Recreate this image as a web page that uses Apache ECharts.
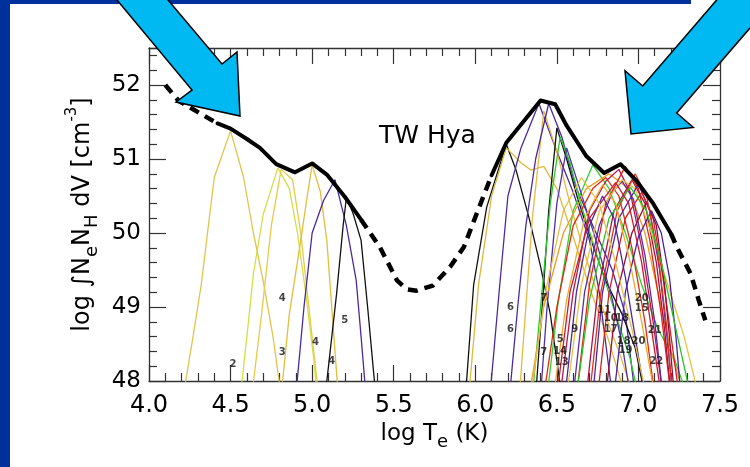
<!DOCTYPE html>
<html>
<head>
<meta charset="utf-8">
<script src="https://cdn.jsdelivr.net/npm/echarts@6.0.0/dist/echarts.min.js"></script>
<style>
  html, body { margin: 0; padding: 0; background: #fff; }
  #main { width: 750px; height: 467px; }
</style>
</head>
<body>
<div id="main"></div>
<script>
// axis ticks
var xTicks = [4.0, 4.5, 5.0, 5.5, 6.0, 6.5, 7.0, 7.5];
var yTicks = [48, 49, 50, 51, 52];

// emission measure distribution (log T, log EM), split where the curve is dashed
var demDash1  = [[4.10, 52.0], [4.18, 51.79], [4.31, 51.62], [4.42, 51.48]];
var demSolid1 = [[4.42, 51.48], [4.50, 51.41], [4.60, 51.27], [4.68, 51.15], [4.78, 50.93],
                 [4.895, 50.82], [5.0, 50.94], [5.09, 50.79], [5.20, 50.49], [5.30, 50.18]];
var demDash2  = [[5.30, 50.18], [5.415, 49.81], [5.52, 49.36], [5.58, 49.24], [5.64, 49.22],
                 [5.74, 49.29], [5.845, 49.54], [5.93, 49.81], [6.01, 50.27], [6.10, 50.78]];
var demSolid2 = [[6.10, 50.78], [6.19, 51.22], [6.40, 51.79], [6.49, 51.74], [6.56, 51.45],
                 [6.68, 51.04], [6.79, 50.81], [6.89, 50.93], [6.99, 50.70], [7.09, 50.40], [7.20, 49.99]];
var demDash3  = [[7.20, 49.99], [7.235, 49.81], [7.32, 49.45], [7.37, 49.09], [7.41, 48.82]];

// contribution curves of individual lines (log T, log EM)
var ionCurves = [
  [[4.21,47.8],[4.27,48.6],[4.32,49.3],[4.40,50.75],[4.50,51.38],[4.58,50.75],[4.64,50.0],[4.70,49.35],[4.76,48.6],[4.81,47.8]],
  [[4.56,47.8],[4.60,48.6],[4.64,49.45],[4.70,50.25],[4.79,50.88],[4.86,50.6],[4.91,50.0],[4.96,49.2],[5.01,48.3],[5.03,47.8]],
  [[4.63,47.8],[4.69,48.9],[4.75,50.1],[4.81,50.86],[4.88,50.72],[4.93,50.0],[4.98,49.0],[5.04,47.8]],
  [[4.81,47.8],[4.86,48.9],[4.93,49.9],[4.97,50.5],[5.00,50.92],[5.05,50.56],[5.09,49.9],[5.12,49.0],[5.16,47.8]],
  [[4.90,47.8],[4.95,49.0],[5.00,50.0],[5.07,50.44],[5.14,50.72],[5.21,50.1],[5.27,49.36],[5.30,48.6],[5.33,47.8]],
  [[5.08,47.8],[5.15,49.18],[5.19,50.1],[5.21,50.48],[5.25,50.27],[5.30,49.9],[5.34,49.0],[5.39,47.8]],
  [[5.94,47.8],[5.99,49.3],[6.07,50.35],[6.19,51.2],[6.25,50.85],[6.33,50.2],[6.40,49.55],[6.46,48.9],[6.53,47.8]],
  [[5.96,47.8],[6.02,49.3],[6.10,50.5],[6.19,51.15],[6.28,50.95],[6.34,50.85],[6.42,50.9],[6.50,50.6],[6.60,49.95],[6.71,49.2],[6.81,48.6],[6.92,47.8]],
  [[6.09,47.8],[6.15,49.3],[6.20,50.5],[6.28,51.15],[6.39,51.75],[6.50,51.1],[6.60,50.55],[6.70,49.9],[6.76,49.2],[6.80,48.5],[6.84,47.8]],
  [[6.27,47.8],[6.31,49.0],[6.35,50.2],[6.42,51.65],[6.50,51.1],[6.58,50.4],[6.66,49.8],[6.76,49.1],[6.88,48.4],[6.97,47.8]],
  [[6.21,47.8],[6.26,49.0],[6.31,50.1],[6.37,51.0],[6.45,51.75],[6.53,51.3],[6.62,50.6],[6.72,50.1],[6.84,49.5],[6.92,48.9],[6.98,47.8]],
  [[6.37,47.8],[6.41,49.0],[6.45,50.3],[6.50,51.42],[6.56,51.0],[6.63,50.45],[6.71,49.9],[6.80,49.35],[6.90,48.9],[6.98,48.45],[7.04,47.8]],
  [[6.35,47.8],[6.40,49.0],[6.46,50.4],[6.52,51.3],[6.58,50.95],[6.66,50.3],[6.76,49.6],[6.86,48.9],[6.95,48.3],[7.00,47.8]],
  [[6.44,47.8],[6.51,49.1],[6.60,50.3],[6.72,50.92],[6.82,50.6],[6.92,50.0],[7.02,49.3],[7.12,48.7],[7.22,48.3],[7.30,47.8]],
  [[6.40,47.8],[6.44,49.0],[6.50,50.4],[6.56,51.15],[6.64,50.6],[6.74,49.9],[6.84,49.1],[6.90,48.5],[6.95,47.8]],
  [[6.33,47.8],[6.42,49.0],[6.54,50.0],[6.68,50.6],[6.82,50.8],[6.94,50.6],[7.04,50.0],[7.12,49.2],[7.20,48.4],[7.28,47.8]],
  [[6.42,47.8],[6.50,49.0],[6.60,50.1],[6.72,50.6],[6.80,50.75],[6.88,50.5],[6.96,49.8],[7.04,48.8],[7.10,47.8]],
  [[6.52,47.8],[6.60,49.2],[6.70,50.3],[6.80,50.7],[6.88,50.86],[6.95,50.55],[7.02,49.8],[7.09,48.8],[7.15,47.8]],
  [[6.60,47.8],[6.67,49.2],[6.76,50.1],[6.84,50.55],[6.90,50.7],[6.97,50.45],[7.04,49.7],[7.10,48.8],[7.15,47.8]],
  [[6.62,47.8],[6.70,49.3],[6.80,50.4],[6.92,50.9],[7.00,50.6],[7.07,49.9],[7.14,48.9],[7.20,47.8]],
  [[6.68,47.8],[6.75,49.2],[6.85,50.3],[6.96,50.72],[7.04,50.4],[7.11,49.6],[7.16,48.7],[7.20,47.8]],
  [[6.56,47.8],[6.65,49.3],[6.76,50.3],[6.90,50.72],[6.98,50.6],[7.08,50.0],[7.18,49.3],[7.28,48.6],[7.37,47.8]],
  [[6.72,47.8],[6.78,49.2],[6.88,50.2],[7.00,50.66],[7.07,50.3],[7.13,49.5],[7.17,48.7],[7.21,47.8]],
  [[6.75,47.8],[6.82,49.2],[6.92,50.2],[7.02,50.55],[7.09,50.2],[7.15,49.4],[7.20,48.6],[7.25,47.8]],
  [[6.80,47.8],[6.87,49.2],[6.96,50.0],[7.05,50.42],[7.11,50.1],[7.16,49.3],[7.19,48.6],[7.22,47.8]],
  [[6.85,47.8],[6.92,49.2],[7.00,49.95],[7.08,50.3],[7.14,50.0],[7.19,49.4],[7.23,48.6],[7.26,47.8]],
  [[6.70,47.8],[6.77,49.2],[6.87,50.3],[6.98,50.8],[7.05,50.5],[7.12,49.7],[7.17,48.8],[7.21,47.8]],
  [[6.62,47.8],[6.70,49.1],[6.82,50.2],[6.95,50.62],[7.05,50.3],[7.14,49.6],[7.22,48.8],[7.32,47.8]],
  [[6.48,47.8],[6.56,49.1],[6.67,50.2],[6.78,50.65],[6.86,50.4],[6.94,49.7],[7.02,48.8],[7.10,47.8]],
  [[6.55,47.8],[6.62,49.2],[6.70,50.1],[6.78,50.5],[6.85,50.2],[6.92,49.4],[6.98,48.6],[7.04,47.8]],
  [[6.50,47.8],[6.58,49.2],[6.70,50.2],[6.86,50.68],[6.94,50.4],[7.02,49.6],[7.08,48.7],[7.14,47.8]],
  [[6.34,47.8],[6.43,49.2],[6.54,50.3],[6.65,50.75],[6.76,50.4],[6.86,49.6],[6.96,48.7],[7.05,47.8]]
];

// line identification numbers written in the plot
var lineLabels = [
  [4.515, 48.23, '2'], [4.816, 48.38, '3'], [4.816, 49.12, '4'], [5.02, 48.52, '4'],
  [5.12, 48.27, '4'], [5.20, 48.82, '5'],
  [6.215, 49.0, '6'], [6.215, 48.70, '6'], [6.42, 49.11, '7'], [6.42, 48.39, '7'],
  [6.52, 48.56, '5'], [6.52, 48.40, '14'], [6.53, 48.25, '13'], [6.61, 48.70, '9'],
  [6.79, 48.95, '11'], [6.83, 48.85, '10'], [6.90, 48.85, '18'], [6.83, 48.70, '17'],
  [7.02, 49.11, '20'], [7.02, 48.98, '15'], [7.10, 48.68, '21'],
  [6.91, 48.54, '18'], [7.00, 48.54, '20'], [6.92, 48.41, '19'], [7.11, 48.27, '22']
];

// colours of the contribution curves, in the order of ionCurves
var ionColors = [
  '#e2c44c', '#cfe046', '#e9c84a', '#e3bd3c', '#4b2aa0', '#111111',
  '#111111', '#e0b83a', '#4b2aa0', '#e8b840', '#4b2aa0', '#111111',
  '#28cc28', '#30d030', '#5030a8', '#f09a20', '#e02a14', '#b4184a',
  '#5a2aa8', '#e02414', '#a8103e', '#e8c23c', '#5224a4', '#d8201a',
  '#940c3a', '#4a1ea0', '#e0301c', '#26c426', '#f0a828', '#4a26a0',
  '#c81c30', '#e6be44'
];

var FONT = 'DejaVu Sans';
var chart = echarts.init(document.getElementById('main'), null, { renderer: 'canvas' });

var series = [];
ionCurves.forEach(function (pts, i) {
  series.push({
    type: 'line', data: pts, showSymbol: false, silent: true, z: 2,
    lineStyle: { color: ionColors[i % ionColors.length], width: 1.3 }
  });
});
[demDash1, demDash2, demDash3].forEach(function (pts) {
  series.push({
    type: 'line', data: pts, showSymbol: false, silent: true, z: 4,
    lineStyle: { color: '#000', width: 4.5, type: [10, 7], cap: 'butt' }
  });
});
[demSolid1, demSolid2].forEach(function (pts) {
  series.push({
    type: 'line', data: pts, showSymbol: false, silent: true, z: 4,
    lineStyle: { color: '#000', width: 4, join: 'round', cap: 'round' }
  });
});
series.push({
  type: 'scatter', symbolSize: 0, z: 5, silent: true,
  data: lineLabels.map(function (d) { return { value: [d[0], d[1]], name: d[2] }; }),
  label: {
    show: true, position: 'inside', formatter: '{b}',
    fontFamily: FONT, fontWeight: 'bold', fontSize: 10, color: '#111'
  }
});

var axisLine = { show: true, lineStyle: { color: '#333', width: 1.3 } };
var xCommon = {
  type: 'value', min: xTicks[0], max: xTicks[xTicks.length - 1], interval: 0.5,
  axisLine: axisLine, splitLine: { show: false },
  axisTick: { show: true, inside: true, length: 16, lineStyle: { color: '#333', width: 1.2 } },
  minorTick: { show: true, splitNumber: 5, length: 8, lineStyle: { color: '#333', width: 1.2 } }
};
var yCommon = {
  type: 'value', min: yTicks[0], max: 52.5, interval: 1,
  axisLine: axisLine, splitLine: { show: false },
  axisTick: { show: true, inside: true, length: 17, lineStyle: { color: '#333', width: 1.2 } },
  minorTick: { show: true, splitNumber: 5, length: 8, lineStyle: { color: '#333', width: 1.2 } }
};

chart.setOption({
  animation: false,
  backgroundColor: '#fff',
  title: {
    text: 'TW Hya', left: 374, top: 119,
    textStyle: { fontFamily: FONT, fontSize: 25, fontWeight: 'normal', color: '#000' }
  },
  grid: { left: 149, right: 30, top: 48, bottom: 86 },
  xAxis: [
    Object.assign({}, xCommon, {
      position: 'bottom',
      axisLabel: {
        fontFamily: FONT, fontSize: 24, color: '#000', margin: 13,
        formatter: function (v) { return v.toFixed(1); }
      },
      name: '{n|log T}{s|e}{n| (K)}', nameLocation: 'middle', nameGap: 36,
      nameTextStyle: {
        fontFamily: FONT, fontSize: 23, color: '#000',
        rich: {
          n: { fontFamily: FONT, fontSize: 23, color: '#000', lineHeight: 34, verticalAlign: 'middle' },
          s: { fontFamily: FONT, fontSize: 18, color: '#000', lineHeight: 18, verticalAlign: 'bottom' }
        }
      }
    }),
    Object.assign({}, xCommon, { position: 'top', axisLabel: { show: false } })
  ],
  yAxis: [
    Object.assign({}, yCommon, {
      position: 'left',
      axisLabel: { fontFamily: FONT, fontSize: 23, color: '#000', margin: 8, showMaxLabel: false },
      name: '{n|log ∫N}{s|e}{n|N}{s|H}{n| dV [cm}{p|-3}{n|]}',
      nameLocation: 'middle', nameGap: 18, nameRotate: 90,
      nameTextStyle: {
        fontFamily: FONT, fontSize: 24, color: '#000',
        rich: {
          n: { fontFamily: FONT, fontSize: 24, color: '#000', lineHeight: 36, verticalAlign: 'middle' },
          s: { fontFamily: FONT, fontSize: 18, color: '#000', lineHeight: 18, verticalAlign: 'bottom' },
          p: { fontFamily: FONT, fontSize: 15, color: '#000', lineHeight: 15, verticalAlign: 'top' }
        }
      }
    }),
    Object.assign({}, yCommon, { position: 'right', axisLabel: { show: false } })
  ],
  graphic: [
    { type: 'rect', shape: { x: 0, y: 0, width: 10, height: 467 }, style: { fill: '#00309c' }, z: 100 },
    { type: 'rect', shape: { x: 0, y: 0, width: 691, height: 4 }, style: { fill: '#00309c' }, z: 100 },
    {
      type: 'polygon', z: 110,
      shape: { points: [[108.7, -10], [192, 90], [176, 102], [240, 116], [237, 52], [222, 64], [159.6, -10]] },
      style: { fill: '#00b9f2', stroke: '#000', lineWidth: 1.5 }
    },
    {
      type: 'polygon', z: 110,
      shape: { points: [[725.3, -10], [642.7, 86], [625, 70.7], [631, 134], [693.3, 127.5], [676.7, 113], [770, 4.8], [780, -10]] },
      style: { fill: '#00b9f2', stroke: '#000', lineWidth: 1.5 }
    }
  ],
  series: series
});
</script>
</body>
</html>
